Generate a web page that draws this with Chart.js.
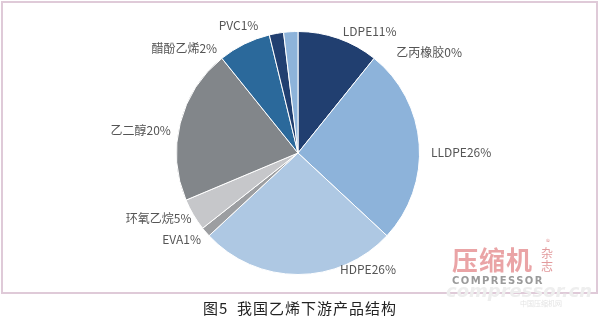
<!DOCTYPE html>
<html>
<head>
<meta charset="utf-8">
<script src="https://cdn.jsdelivr.net/npm/chart.js@4"></script>
<style>
  html, body { margin: 0; padding: 0; background: #fff; }
  #wrap { position: relative; width: 600px; height: 323px; overflow: hidden; }
  #frame { position: absolute; left: 1px; top: 1px; width: 593px; height: 289px; border: 2px solid #dfcad8; }
  #chart { position: absolute; left: 0; top: 0; }
  #caption { position: absolute; left: 0; width: 600px; top: 297px; text-align: center;
    font-family: "Noto Sans CJK SC", sans-serif; font-size: 15px; color: #222; letter-spacing: 1px; }
  .wm { position: absolute; font-family: "Noto Sans CJK SC", sans-serif; }
</style>
</head>
<body>
<div id="wrap">
  <canvas id="chart" width="600" height="323"></canvas>
  <div id="frame"></div>
  <div class="wm" style="left:446px;top:280px;font-family:'DejaVu Sans';font-style:italic;font-weight:bold;font-size:18px;color:#eeeeee;">compressor.cn</div>
  <div class="wm" style="left:452px;top:244px;font-size:26px;font-weight:bold;color:#eaa4a6;letter-spacing:1px;line-height:30px;">压缩机</div>
  <div class="wm" style="left:541px;top:246px;font-size:12px;color:#e29a9c;line-height:13px;width:13px;">杂<br>志</div>
  <div class="wm" style="left:546px;top:236px;font-size:8px;color:#e29a9c;">®</div>
  <div class="wm" style="left:452px;top:275px;font-family:'DejaVu Sans';font-weight:bold;font-size:10px;color:#9a9a9a;letter-spacing:1.4px;">COMPRESSOR</div>
  <div class="wm" style="left:520px;top:298px;font-size:7px;color:#e4e4e4;">中国压缩机网</div>
  <div id="caption">图5&nbsp;&nbsp;我国乙烯下游产品结构</div>
</div>
<script>
const categories = ["LDPE", "乙丙橡胶", "LLDPE", "HDPE", "EVA", "环氧乙烷", "乙二醇", "醋酚乙烯", "PVC", "其他"];
const shares = [10.8, 0, 26.2, 26.2, 1.3, 4.3, 20.6, 7.0, 1.9, 1.9];
const labelTexts = ["LDPE11%", "乙丙橡胶0%", "LLDPE26%", "HDPE26%", "EVA1%", "环氧乙烷5%", "乙二醇20%", "醋酚乙烯2%", "PVC1%", ""];
const colors = ["#213f70", "#8db3da", "#8db3da", "#aec8e3", "#9c9ea1", "#c6c7ca", "#82868a", "#2b699b", "#213f70", "#8db3da"];

// label nudges relative to the arc's mid-angle anchor
const nudges = [[26, 8], [45, 7], [26, 9], [70, -21], [-12, -3], [-21, -4], [-24, 11], [-53, 19], [-35, 8], [0, 0]];

const sliceLabels = {
  id: "sliceLabels",
  afterDatasetsDraw(chart) {
    const ctx = chart.ctx;
    const arcs = chart.getDatasetMeta(0).data;
    ctx.save();
    ctx.font = '12px "Noto Sans CJK SC", sans-serif';
    ctx.fillStyle = "#555555";
    ctx.textAlign = "center";
    ctx.textBaseline = "middle";
    arcs.forEach((arc, i) => {
      if (!labelTexts[i]) return;
      const p = arc.getProps(["x", "y", "startAngle", "endAngle", "outerRadius"], true);
      const mid = (p.startAngle + p.endAngle) / 2;
      const r = p.outerRadius + 16;
      const x = p.x + Math.cos(mid) * r + nudges[i][0];
      const y = p.y + Math.sin(mid) * r + nudges[i][1];
      ctx.fillText(labelTexts[i], x, y);
    });
    ctx.restore();
  }
};

new Chart(document.getElementById("chart").getContext("2d"), {
  type: "pie",
  data: {
    labels: categories,
    datasets: [{
      data: shares,
      backgroundColor: colors,
      borderColor: "#ffffff",
      borderWidth: 1
    }]
  },
  options: {
    responsive: false,
    animation: false,
    layout: { padding: { top: 31, bottom: 48, left: 176, right: 180 } },
    plugins: {
      legend: { display: false },
      tooltip: { enabled: false }
    }
  },
  plugins: [sliceLabels]
});
</script>
</body>
</html>
